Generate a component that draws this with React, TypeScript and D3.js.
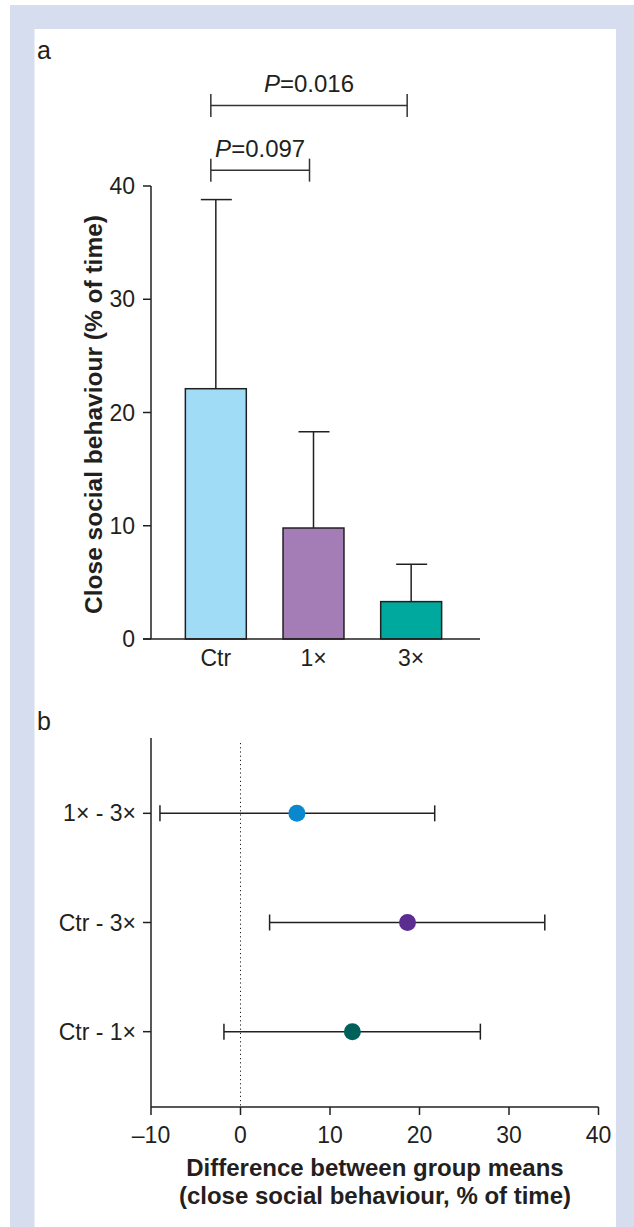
import React from "react";
import * as d3 from "d3";

const categories = ["Ctr", "1×", "3×"];
const means = [22.1, 9.8, 3.3];
const upperErr = [38.8, 18.3, 6.6];
const barColors = ["#a1dcf6", "#a47db7", "#00a99d"];
const yTicksA = [0, 10, 20, 30, 40];

const brackets = [
  { from: "Ctr", to: "3×", level: 47.1, label: "0.016" },
  { from: "Ctr", to: "1×", level: 41.4, label: "0.097" },
];

const comparisons = ["1× - 3×", "Ctr - 3×", "Ctr - 1×"];
const diffs = [6.3, 18.66, 12.5];
const lowers = [-9.0, 3.25, -1.85];
const uppers = [21.7, 34.0, 26.8];
const dotColors = ["#0a88cf", "#5b2d90", "#00615a"];
const xTicksB = [-10, 0, 10, 20, 30, 40];

const FONT = "'Liberation Sans', Arial, Helvetica, sans-serif";
const INK = "#231f20";

export default function App() {
  const yA = d3.scaleLinear().domain([0, 40]).range([639, 186]);
  const xA = d3
    .scaleBand()
    .domain(categories)
    .range([167, 460])
    .paddingInner(0.376)
    .paddingOuter(0.188);
  const bw = xA.bandwidth();
  const cx = (c: string) => (xA(c) as number) + bw / 2;

  const xB = d3.scaleLinear().domain([-10, 40]).range([151, 598.5]);
  const yB = d3.scalePoint().domain(comparisons).range([738, 1107]).padding(0.69);

  const tickFs = 23;

  return (
    <svg
      width={634}
      height={1227}
      style={{ position: "absolute", left: 0, top: 0, fontFamily: FONT }}
    >
      <rect x={10} y={5} width={624} height={1222} fill="#d5ddee" />
      <rect x={34.5} y={29} width={581.5} height={1198} fill="#ffffff" />

      {/* Panel a */}
      <text x={37} y={59} fontSize={25} fill={INK}>a</text>

      <line x1={151} x2={151} y1={yA(40)} y2={yA(0)} stroke={INK} strokeWidth={1.5} />
      {yTicksA.map((t) => (
        <g key={t}>
          <line x1={143} x2={151} y1={yA(t)} y2={yA(t)} stroke={INK} strokeWidth={1.5} />
          <text x={135} y={yA(t) + 8} textAnchor="end" fontSize={tickFs} fill={INK}>
            {t}
          </text>
        </g>
      ))}
      <text
        transform={`translate(102,${(yA(0) + yA(40)) / 2 + 2}) rotate(-90)`}
        textAnchor="middle"
        fontSize={24.5}
        fontWeight="bold"
        fill={INK}
      >
        Close social behaviour (% of time)
      </text>

      {categories.map((c, i) => (
        <g key={c}>
          <line x1={cx(c)} x2={cx(c)} y1={yA(means[i])} y2={yA(upperErr[i])} stroke={INK} strokeWidth={1.5} />
          <line x1={cx(c) - 15} x2={cx(c) + 16} y1={yA(upperErr[i])} y2={yA(upperErr[i])} stroke={INK} strokeWidth={1.5} />
        </g>
      ))}
      {categories.map((c, i) => (
        <rect
          key={c}
          x={xA(c)}
          y={yA(means[i])}
          width={bw}
          height={yA(0) - yA(means[i])}
          fill={barColors[i]}
          stroke={INK}
          strokeWidth={1.5}
        />
      ))}
      <line x1={143} x2={480} y1={yA(0)} y2={yA(0)} stroke={INK} strokeWidth={1.5} />
      {categories.map((c) => (
        <text key={c} x={cx(c)} y={666} textAnchor="middle" fontSize={tickFs} fill={INK}>
          {c}
        </text>
      ))}

      {brackets.map((b) => {
        const x1 = cx(b.from) - 5;
        const x2 = cx(b.to) - 4;
        const y = yA(b.level);
        return (
          <g key={b.label}>
            <line x1={x1} x2={x2} y1={y} y2={y} stroke="#333" strokeWidth={1.5} />
            <line x1={x1} x2={x1} y1={y - 11.5} y2={y + 11.5} stroke="#333" strokeWidth={1.5} />
            <line x1={x2} x2={x2} y1={y - 11.5} y2={y + 11.5} stroke="#333" strokeWidth={1.5} />
            <text x={(x1 + x2) / 2} y={y - 13.5} textAnchor="middle" fontSize={24} fill={INK}>
              <tspan fontStyle="italic">P</tspan>={b.label}
            </text>
          </g>
        );
      })}

      {/* Panel b */}
      <text x={37} y={730} fontSize={25} fill={INK}>b</text>

      <line x1={151} x2={151} y1={738} y2={1107} stroke={INK} strokeWidth={1.5} />
      <line x1={151} x2={598.5} y1={1107} y2={1107} stroke={INK} strokeWidth={1.5} />
      <line
        x1={xB(0)}
        x2={xB(0)}
        y1={743}
        y2={1107}
        stroke={INK}
        strokeWidth={1}
        strokeDasharray="1.2,3"
      />
      {xTicksB.map((t) => (
        <g key={t}>
          <line x1={xB(t)} x2={xB(t)} y1={1107} y2={1115} stroke={INK} strokeWidth={1.5} />
          <text x={xB(t)} y={1143} textAnchor="middle" fontSize={tickFs} fill={INK}>
            {t < 0 ? `–${Math.abs(t)}` : t}
          </text>
        </g>
      ))}
      {comparisons.map((c, i) => {
        const y = yB(c) as number;
        return (
          <g key={c}>
            <line x1={143} x2={151} y1={y} y2={y} stroke={INK} strokeWidth={1.5} />
            <text x={136} y={y + 8} textAnchor="end" fontSize={tickFs} fill={INK}>
              {c}
            </text>
            <line x1={xB(lowers[i])} x2={xB(uppers[i])} y1={y} y2={y} stroke={INK} strokeWidth={1.5} />
            <line x1={xB(lowers[i])} x2={xB(lowers[i])} y1={y - 8} y2={y + 8} stroke={INK} strokeWidth={1.5} />
            <line x1={xB(uppers[i])} x2={xB(uppers[i])} y1={y - 8} y2={y + 8} stroke={INK} strokeWidth={1.5} />
            <circle cx={xB(diffs[i])} cy={y} r={8.5} fill={dotColors[i]} />
          </g>
        );
      })}
      <text x={375} y={1176} textAnchor="middle" fontSize={24} fontWeight="bold" fill={INK}>
        Difference between group means
      </text>
      <text x={375} y={1204} textAnchor="middle" fontSize={24} fontWeight="bold" fill={INK}>
        (close social behaviour, % of time)
      </text>
    </svg>
  );
}
